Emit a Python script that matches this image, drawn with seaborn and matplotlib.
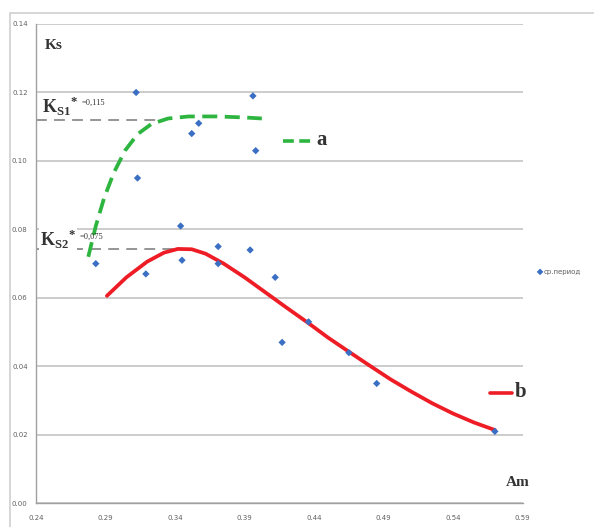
import numpy as np
import pandas as pd
import seaborn as sns
import matplotlib.pyplot as plt
from matplotlib.patches import Rectangle
from matplotlib.lines import Line2D

# measured points (Am, Ks)
am_points = [0.312, 0.396, 0.357, 0.352, 0.398, 0.313, 0.344, 0.283, 0.345,
             0.371, 0.371, 0.394, 0.319, 0.412, 0.417, 0.436, 0.465, 0.485,
             0.570]
ks_points = [0.120, 0.119, 0.111, 0.108, 0.103, 0.095, 0.081, 0.070, 0.071,
             0.075, 0.070, 0.074, 0.067, 0.066, 0.047, 0.053, 0.044, 0.035,
             0.021]

# trend curve a (green dashed)
curve_a_x = [0.2776, 0.2830, 0.2890, 0.2960, 0.3040, 0.3130, 0.3230, 0.3350,
             0.3500, 0.3700, 0.3900, 0.4024]
curve_a_y = [0.0720, 0.0810, 0.0892, 0.0966, 0.1030, 0.1078, 0.1108, 0.1124,
             0.1130, 0.1130, 0.1127, 0.1124]

# trend curve b (red solid)
curve_b_x = [0.291, 0.305, 0.320, 0.332, 0.342, 0.352, 0.362, 0.375, 0.390,
             0.405, 0.420, 0.436, 0.450, 0.466, 0.480, 0.495, 0.510, 0.525,
             0.540, 0.555, 0.570]
curve_b_y = [0.0606, 0.0660, 0.0706, 0.0732, 0.0743, 0.0742, 0.0729, 0.0700,
             0.0660, 0.0616, 0.0572, 0.0526, 0.0484, 0.0440, 0.0402, 0.0362,
             0.0326, 0.0292, 0.0262, 0.0236, 0.0214]

ks1_level = 0.112
ks1_end = 0.329
ks2_level = 0.0742
ks2_end = 0.342

x_ticks = [0.24, 0.29, 0.34, 0.39, 0.44, 0.49, 0.54, 0.59]
y_ticks = [0.00, 0.02, 0.04, 0.06, 0.08, 0.10, 0.12, 0.14]

sns.set_style("white")
plt.rcParams['font.family'] = ['DejaVu Sans']
plt.rcParams['mathtext.fontset'] = 'custom'
plt.rcParams['mathtext.rm'] = 'Liberation Serif'
plt.rcParams['mathtext.bf'] = 'Liberation Serif:bold'

fig = plt.figure(figsize=(5.94, 5.27), dpi=100)
ax = fig.add_axes([36 / 594, 1 - 503.3 / 527, (522.7 - 36) / 594,
                   (503.3 - 24) / 527])

# outer chart frame
fig.patches.append(Rectangle((10 / 594, -0.2), 1.2, 1 - 13 / 527 + 0.2,
                             transform=fig.transFigure, fill=False,
                             edgecolor='#d0d0d0', linewidth=1.2,
                             clip_on=False))

ax.set_xlim(0.24, 0.59)
ax.set_ylim(0, 0.14)
ax.set_yticks(y_ticks)
ax.set_yticklabels([f"{t:.2f}" for t in y_ticks])
ax.set_xticks(x_ticks)
ax.set_xticklabels([f"{t:.2f}" for t in x_ticks])
ax.set_xticks(np.arange(0.25, 0.59, 0.01), minor=True)
ax.grid(axis='y', color='#c8c8c8', linewidth=1.3)
ax.set_axisbelow(True)
for side in ['top', 'right']:
    ax.spines[side].set_visible(False)
for side in ['left', 'bottom']:
    ax.spines[side].set_color('#a0a0a0')
    ax.spines[side].set_linewidth(1.0)
ax.tick_params(axis='x', which='both', direction='inout', color='#a0a0a0',
               length=5, labelsize=5, labelcolor='#606060', pad=6)
ax.tick_params(axis='x', which='minor', length=3)
ax.tick_params(axis='y', length=0, labelsize=5, labelcolor='#606060', pad=6)

# reference levels Ks1*, Ks2*
ax.plot([0.24, ks1_end], [ks1_level, ks1_level], color='#8c8c8c',
        linewidth=1.3, dashes=(6, 4))
ax.plot([0.24, ks2_end], [ks2_level, ks2_level], color='#8c8c8c',
        linewidth=1.3, dashes=(6, 4))

df_a = pd.DataFrame({"x": curve_a_x, "y": curve_a_y})
df_b = pd.DataFrame({"x": curve_b_x, "y": curve_b_y})
sns.lineplot(data=df_a, x="x", y="y", ax=ax, color='#2eb540', linewidth=2.7,
             sort=False, estimator=None)
ax.lines[-1].set_dashes((4, 2))
sns.lineplot(data=df_b, x="x", y="y", ax=ax, color='#ee1c25', linewidth=2.7,
             sort=False, estimator=None)
ax.lines[-1].set_solid_joinstyle('round')

points = pd.DataFrame({"Am": am_points, "Ks": ks_points})
sns.scatterplot(data=points, x="Am", y="Ks", ax=ax, marker='D', s=14,
                color='#3a6fc4', edgecolor='none', label='ср.период',
                zorder=5)
ax.set_xlabel("")
ax.set_ylabel("")

ax.legend(loc='center left', bbox_to_anchor=(538 / 594, 1 - 271.7 / 527),
          bbox_transform=fig.transFigure, frameon=False, fontsize=5,
          handlelength=0.6, handletextpad=0.2, borderpad=0, borderaxespad=0,
          markerscale=0.9, labelcolor='#606060')

# axis names
ax.text(0.018, 0.955, "Ks", transform=ax.transAxes, family='Liberation Serif',
        fontweight='bold', fontsize=11, color='#333333', va='center')
fig.text(506 / 594, 1 - 483 / 527, "Am", family='Liberation Serif',
         fontweight='bold', fontsize=11, color='#333333', va='center')

# level labels
fig.text(42 / 594, 1 - 106 / 527, r"$\mathbf{K}_{\mathbf{S1}}{}^{\mathbf{*}}$",
         fontsize=13, color='#333333', va='center')
fig.text(82 / 594, 1 - 103 / 527, "=0,115", family='Liberation Serif',
         fontsize=6, color='#333333', va='center')
fig.text(40 / 594, 1 - 239 / 527, r"$\mathbf{K}_{\mathbf{S2}}{}^{\mathbf{*}}$",
         fontsize=13, color='#333333', va='center',
         bbox=dict(facecolor='white', edgecolor='none', pad=1))
fig.text(80 / 594, 1 - 237 / 527, "=0,075", family='Liberation Serif',
         fontsize=6, color='#333333', va='center')

# curve keys a / b
fig.lines.append(Line2D([283 / 594, 313 / 594], [1 - 141 / 527, 1 - 141 / 527],
                        transform=fig.transFigure, color='#2eb540',
                        linewidth=2.6, dashes=(3, 1.5)))
fig.text(316 / 594, 1 - 140 / 527, "a", family='Liberation Serif',
         fontweight='bold', fontsize=15, color='#333333', va='center')
fig.lines.append(Line2D([490 / 594, 512 / 594], [1 - 393 / 527, 1 - 393 / 527],
                        transform=fig.transFigure, color='#ee1c25',
                        linewidth=2.6))
fig.text(515 / 594, 1 - 392 / 527, "b", family='Liberation Serif',
         fontweight='bold', fontsize=15, color='#333333', va='center')

fig.savefig("out.png", dpi=100)
